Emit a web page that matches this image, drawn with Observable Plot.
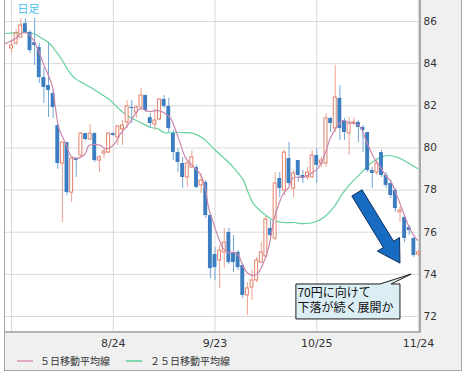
<!DOCTYPE html>
<html><head><meta charset="utf-8">
<script src="https://cdn.jsdelivr.net/npm/d3@7"></script>
<script src="https://cdn.jsdelivr.net/npm/@observablehq/plot@0.6"></script>
<style>
body{margin:0;background:#fff;}
#wrap{position:relative;width:464px;height:376px;overflow:hidden;}
#frame{position:absolute;left:4px;top:0;width:456px;height:370px;border:1px solid #a6a6a6;border-top:none;background:#f0f0f0;}
#plotbg{position:absolute;left:5px;top:0;width:414px;height:331px;background:#fff;border-right:2px solid #a9a9a9;border-bottom:2px solid #b4b4b4;}
#chart{position:absolute;left:0;top:0;}
.lg{position:absolute;top:353px;font:10px "Noto Sans CJK JP",sans-serif;color:#333;line-height:16px;}
.sw{position:absolute;top:360px;height:2px;width:16px;}
</style></head>
<body>
<div id="wrap">
  <div id="frame"></div>
  <div id="plotbg"></div>
  <div id="chart"></div>
  <div class="sw" style="left:17px;background:#e3a9c4"></div>
  <div class="lg" style="left:40px">５日移動平均線</div>
  <div class="sw" style="left:126px;background:#7fd9ae"></div>
  <div class="lg" style="left:150px">２５日移動平均線</div>
</div>
<script>
// ---- data ----
const opens = [84.72,84.96,85.24,85.90,85.48,85.00,84.77,83.34,82.96,82.58,
81.06,79.26,80.26,77.88,79.50,79.64,80.68,80.40,80.68,79.40,
79.74,79.78,80.68,80.49,80.88,81.21,81.92,81.68,81.92,82.49,
81.44,81.11,81.35,82.30,81.97,80.68,79.78,79.26,78.60,79.07,
79.07,78.22,78.36,76.79,74.94,74.66,75.04,75.99,75.04,75.04,
74.42,73.00,73.38,73.71,74.56,74.85,76.18,75.70,78.55,77.98,
79.50,78.07,79.40,78.69,78.60,78.60,79.64,79.26,79.26,81.40,
80.92,82.35,81.30,80.68,81.16,81.21,80.97,80.73,78.93,78.83,
79.78,78.69,78.31,77.98,76.94,76.70,76.22,75.70,74.94];
const closes = [84.86,85.43,85.81,85.48,84.62,84.86,83.34,82.87,82.73,81.92,
79.26,80.26,77.88,79.50,79.40,80.68,80.40,80.68,79.40,79.55,
79.83,80.68,80.59,81.02,81.06,81.97,81.87,81.92,82.49,81.78,
81.16,81.30,82.30,81.97,80.92,79.78,79.31,78.60,79.26,79.55,
78.12,78.45,76.79,74.27,74.32,75.13,75.51,74.56,74.56,74.32,
73.00,73.33,73.71,74.66,75.04,76.60,75.84,78.31,78.07,79.78,
78.31,78.79,78.69,78.55,78.83,79.64,79.17,79.40,81.40,81.16,
82.39,80.92,80.73,81.16,81.21,80.97,80.83,78.93,78.79,79.26,
78.69,78.22,77.74,77.12,77.03,75.70,76.08,74.89,75.04];
const highs = [85.10,85.62,86.14,86.14,85.57,86.14,84.96,83.82,84.96,82.73,
81.16,80.26,80.26,79.50,79.55,80.73,80.68,81.11,80.73,79.64,
79.97,80.73,80.73,81.06,81.30,82.25,82.25,82.01,82.82,82.49,
81.63,81.87,82.35,82.49,82.35,80.83,79.97,79.55,79.40,79.88,
79.17,78.79,78.45,76.89,75.27,75.37,76.18,76.18,75.84,75.13,
74.51,73.61,74.18,74.80,75.51,76.75,76.56,78.83,78.83,79.88,
80.26,78.93,79.40,78.93,79.07,79.88,79.97,79.55,81.63,81.44,
83.91,82.96,81.40,81.44,81.40,81.30,81.06,80.73,79.07,79.40,
79.88,78.83,78.45,78.07,77.17,76.79,76.32,75.75,75.13];
const lows = [84.48,84.86,85.24,85.43,84.48,83.91,83.06,82.11,81.44,81.40,
78.98,76.46,77.74,77.41,78.60,79.55,80.35,80.35,79.31,78.83,
79.50,79.74,80.54,80.12,80.12,80.92,81.16,81.40,81.78,81.68,
80.92,80.83,81.30,81.87,80.73,79.40,78.83,78.07,78.12,79.02,
78.07,77.84,76.65,73.80,73.71,73.33,74.27,74.47,74.09,74.18,
72.85,72.05,72.76,73.61,74.51,74.75,75.75,75.61,77.65,77.74,
78.22,77.65,78.36,78.31,78.45,78.55,78.31,79.07,79.07,80.73,
80.73,80.35,80.35,79.64,81.06,80.26,79.78,78.83,78.07,78.69,
78.60,78.07,77.60,76.94,76.46,75.51,75.84,74.80,74.85];

// 5-day moving average (x = bar index)
const ma5X = [-1.3,0.9,2.0,3.5,4.8,5.8,6.9,8.0,8.9,9.5,10.2,11.7,12.8,13.8,14.9,16.0,16.7,18.2,19.2,20.3,21.4,22.5,23.6,24.7,25.7,26.8,27.9,29.0,30.1,31.6,32.9,34.4,35.5,36.5,37.6,38.7,40.2,41.3,42.0,42.6,43.7,44.8,45.8,46.9,48.0,49.1,50.2,51.2,52.3,53.4,54.5,55.6,56.7,57.7,58.8,59.9,61.0,62.5,64.0,64.7,66.2,67.5,69.0,70.5,71.6,72.9,74.4,75.5,76.5,77.6,78.7,79.8,80.9,82.0,83.5,84.8,86.3,87.8];
const ma5Y = [84.96,85.19,85.43,85.43,85.10,84.62,84.00,83.44,82.87,81.92,80.97,80.21,79.64,79.50,79.55,79.74,80.12,80.16,80.12,79.97,80.02,80.26,80.68,80.97,81.25,81.63,81.87,81.78,81.73,81.78,81.68,81.40,80.83,80.21,79.55,79.26,78.93,78.55,77.98,77.17,76.41,75.70,75.23,75.04,75.04,74.89,74.32,74.04,73.94,74.09,74.56,75.27,76.56,77.27,77.84,78.12,78.60,78.60,78.69,78.79,79.02,79.55,80.49,81.06,81.30,81.21,81.16,80.97,80.45,79.88,79.40,79.07,78.69,78.41,77.65,76.89,76.08,75.61];
// 25-day moving average
const ma25X = [-1.3,2.0,3.5,4.8,6.3,8.0,9.5,11.0,12.3,13.8,15.6,17.5,19.2,21.4,23.6,25.7,27.9,30.1,31.6,32.9,35.0,37.2,39.4,41.5,43.7,45.8,48.0,50.2,51.0,52.3,54.5,56.7,58.8,61.0,63.1,65.3,67.5,69.6,71.6,73.3,75.5,77.6,79.8,81.5,83.5,85.6,87.8];
const ma25Y = [85.43,85.48,85.48,85.43,85.24,85.00,84.62,84.15,83.67,83.29,83.06,82.82,82.58,82.25,81.78,81.44,81.21,80.97,80.92,80.73,80.73,80.73,80.68,80.45,79.97,79.55,79.07,78.45,77.98,77.36,76.89,76.56,76.46,76.46,76.41,76.46,76.70,77.17,77.84,78.31,78.79,79.26,79.55,79.64,79.55,79.31,79.02];

const xTicks = [0, 22, 44, 66, 88];
const xTickLabels = ["", "8/24", "9/23", "10/25", "11/24"];
const yTicks = [72, 74, 76, 78, 80, 82, 84, 86];
const periodLabel = "日足";
const noteLines = ["70円に向けて", "下落が続く展開か"];

// ---- build ----
const candles = opens.map((o, i) => ({i, o, h: highs[i], l: lows[i], c: closes[i]}));
const up = candles.filter(d => d.c >= d.o);
const down = candles.filter(d => d.c < d.o);
const ma5 = ma5X.map((x, k) => ({x, y: ma5Y[k]}));
const ma25 = ma25X.map((x, k) => ({x, y: ma25Y[k]}));
const hw = 0.42;

const plot = Plot.plot({
  width: 464, height: 352,
  marginLeft: 5, marginRight: 45, marginTop: 0, marginBottom: 21,
  style: {background: "transparent", fontFamily: "DejaVu Sans, sans-serif", fontSize: "10px", color: "#333", overflow: "visible"},
  x: {type: "linear", domain: [0, 88], range: [11, 418], axis: null},
  y: {type: "linear", domain: [72, 86], range: [316, 21], axis: null},
  marks: [
    Plot.ruleY(yTicks, {y: d => d, stroke: "#d9d9d9", strokeWidth: 1}),
    Plot.ruleX(xTicks, {x: d => d, stroke: "#d9d9d9", strokeWidth: 1}),
    Plot.text(yTicks, {y: d => d, text: d => String(d), frameAnchor: "right", textAnchor: "start", dx: 4, fill: "#333", fontSize: 10.5}),
    Plot.text(xTicks, {x: d => d, text: (d, k) => xTickLabels[k], frameAnchor: "bottom", lineAnchor: "top", dy: 8, fill: "#333", fontSize: 11}),
    Plot.text([periodLabel], {text: d => d, frameAnchor: "top-left", lineAnchor: "top", textAnchor: "start", dx: 12, dy: 5, fill: "#45bff0", fontSize: 11, fontFamily: "Noto Sans CJK JP"}),
    Plot.line(ma25, {x: "x", y: "y", stroke: "#63d19c", strokeWidth: 1.2, curve: "catmull-rom"}),
    Plot.ruleX(up, {x: "i", y1: "l", y2: "h", stroke: "#eba28f", strokeWidth: 1}),
    Plot.ruleX(down, {x: "i", y1: "l", y2: "h", stroke: "#74a7d8", strokeWidth: 1}),
    Plot.rect(down, {x1: d => d.i - hw, x2: d => d.i + hw, y1: "o", y2: "c", fill: "#3b7dc0"}),
    Plot.rect(up, {x1: d => d.i - hw + 0.1, x2: d => d.i + hw - 0.1, y1: "o", y2: "c", fill: "#fff", stroke: "#e3806a", strokeWidth: 1}),
    Plot.line(ma5, {x: "x", y: "y", stroke: "#c987ad", strokeWidth: 1.2, curve: "catmull-rom"})
  ]
});
document.getElementById("chart").appendChild(plot);

// ---- annotation (arrow + callout), placed in data coordinates through the plot's scales ----
const sx = plot.scale("x"), sy = plot.scale("y");
const X = d3.scaleLinear(sx.domain, sx.range), Y = d3.scaleLinear(sy.domain, sy.range);
const svg = d3.select(plot);
const g = svg.append("g").attr("text-anchor", "start");
// block arrow
const T = [X(74.8), Y(77.84)], P = [X(84.1), Y(74.51)];
const dx = P[0] - T[0], dy = P[1] - T[1], L = Math.hypot(dx, dy);
const u = [dx / L, dy / L], n = [-u[1], u[0]];
const sw = 6, hwid = 13, hl = 22;
const B = [P[0] - u[0] * hl, P[1] - u[1] * hl];
const pt = (p, k) => [p[0] + n[0] * k, p[1] + n[1] * k];
const arrowPts = [pt(T, sw), pt(B, sw), pt(B, hwid), P, pt(B, -hwid), pt(B, -sw), pt(T, -sw)];
g.append("polygon").attr("points", arrowPts.map(p => p.join(",")).join(" "))
  .attr("fill", "#176cc2").attr("stroke", "#0b2f5c").attr("stroke-width", 1);
// callout
const bx0 = X(61.6), bx1 = X(84.1), by0 = Y(73.52), by1 = Y(71.86);
const tip = [X(86.5), Y(73.99)];
const t0 = X(79.8), t1 = X(82.2);
g.append("path").attr("d", `M${bx0},${by0}H${t0}L${tip[0]},${tip[1]}L${t1},${by0}H${bx1}V${by1}H${bx0}Z`)
  .attr("fill", "#dbeef4").attr("stroke", "#1a1a1a").attr("stroke-width", 1);
noteLines.forEach((s, k) => {
  g.append("text").attr("x", bx0 + 1.5).attr("y", by0 + 13 + k * 15.5).attr("text-anchor", "start")
    .attr("font-family", "Noto Sans CJK JP").attr("font-size", 12).attr("fill", "#111").text(s);
});
</script>
</body></html>
